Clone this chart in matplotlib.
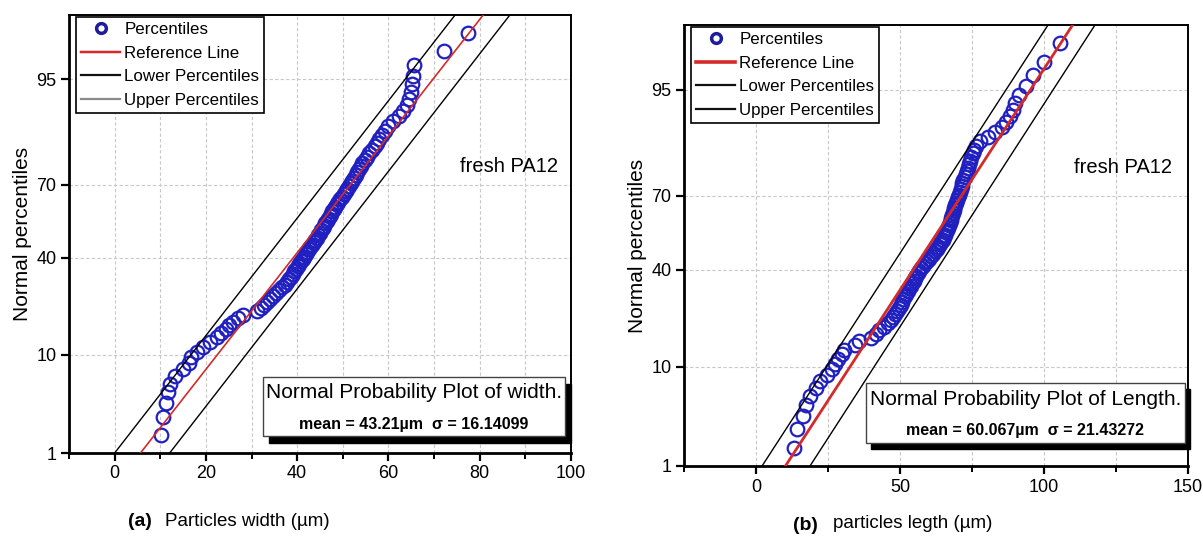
from statistics import NormalDist

import numpy as np
from matplotlib import pyplot as plt
from matplotlib.lines import Line2D
from matplotlib.patches import Rectangle
from matplotlib.ticker import MultipleLocator

plt.rcParams["font.family"] = ["Liberation Sans", "DejaVu Sans"]

# sorted particle widths, panel (a)
width = [7.5, 10.2, 10.6, 11.3, 11.7, 12.2, 13.2, 15.0, 16.2, 16.8,
         18.0, 19.4, 21.0, 22.5, 23.2, 24.3, 25.0, 25.9, 27.0, 28.1,
         31.2, 32.0, 32.7, 33.3, 34.0, 34.7, 35.4, 36.0, 36.7, 37.3,
         37.8, 38.2, 38.6, 39.0, 39.3, 39.7, 40.1, 40.5, 40.9, 41.2,
         41.5, 41.9, 42.2, 42.5, 42.8, 43.2, 43.6, 44.0, 44.3, 44.6,
         45.0, 45.3, 45.6, 45.9, 46.2, 46.5, 46.8, 47.1, 47.4, 47.7,
         48.0, 48.3, 48.7, 49.0, 49.4, 49.8, 50.2, 50.6, 51.0, 51.3,
         51.7, 52.1, 52.5, 52.8, 53.1, 53.5, 53.9, 54.3, 54.8, 55.3,
         55.8, 56.4, 57.0, 57.5, 58.0, 58.6, 59.2, 60.0, 61.0, 62.4,
         63.2, 64.0, 64.4, 64.9, 65.2, 65.3, 65.5, 72.2, 77.5, 85.0]

# sorted particle lengths, panel (b)
length = [5.0, 13.1, 14.1, 16.3, 17.3, 18.8, 21.0, 22.2, 24.5, 26.5,
          27.6, 28.3, 29.8, 30.5, 34.5, 35.8, 39.8, 41.5, 42.8, 44.3,
          45.8, 46.8, 47.6, 48.3, 49.0, 49.6, 50.2, 50.7, 51.2, 51.7,
          52.2, 52.7, 53.2, 53.7, 54.2, 54.7, 55.2, 55.7, 56.2, 56.7,
          57.3, 57.9, 58.6, 59.3, 60.0, 60.7, 61.4, 62.1, 62.7, 63.3,
          63.8, 64.3, 64.8, 65.2, 65.6, 66.0, 66.3, 66.7, 67.0, 67.3,
          67.6, 67.8, 68.0, 68.3, 68.6, 68.9, 69.2, 69.5, 69.8, 70.2,
          70.5, 70.8, 71.1, 71.4, 71.7, 72.0, 72.4, 72.8, 73.2, 73.6,
          74.0, 74.4, 74.8, 75.2, 75.7, 76.3, 77.8, 80.5, 83.0, 85.3,
          86.8, 88.2, 89.3, 90.0, 91.2, 93.8, 96.3, 100.0, 105.6, 118.0]

mean_a, sigma_a = 43.21, 16.14099
mean_b, sigma_b = 60.067, 21.43272

# confidence band end points (x at 1 % and 99 %)
band_p = [1, 99]
lower_a = [12.06, 86.6]
upper_a = [0.0, 74.6]
lower_b = [18.75, 117.7]
upper_b = [2.1, 101.4]

yticks = [1, 10, 40, 70, 95]

BLUE = "#2020c0"
RED = "#d42a2a"
_nd = NormalDist()


def fwd(p):
    p = np.clip(np.asarray(p, dtype=float) / 100.0, 1e-9, 1 - 1e-9)
    return np.vectorize(_nd.inv_cdf, otypes=[float])(p)


def inv(z):
    return np.vectorize(_nd.cdf, otypes=[float])(np.asarray(z, dtype=float)) * 100.0


def positions(data):
    """ Blom plotting positions in percent. """
    n = len(data)
    i = np.arange(1, n + 1)
    return (i - 0.375) / (n + 0.25) * 100.0


def panel(ax, data, mean, sigma, lower, upper, xlim, xmajor, xminor,
          ref_lw, upper_leg_color):
    ax.set_yscale("function", functions=(fwd, inv))
    ax.plot(data, positions(data), "o", mfc="none", mec=BLUE, ms=9.8,
            mew=1.6, zorder=2)
    zref = fwd(band_p)
    ax.plot(mean + sigma * zref, band_p, color=RED, lw=ref_lw, zorder=4)
    ax.plot(lower, band_p, color="black", lw=1.0, zorder=3)
    ax.plot(upper, band_p, color="black", lw=1.0, zorder=3)

    ax.set_xlim(*xlim)
    ax.set_ylim(1, 99)
    ax.xaxis.set_major_locator(MultipleLocator(xmajor))
    ax.xaxis.set_minor_locator(MultipleLocator(xminor))
    ax.set_yticks(yticks)
    ax.set_yticklabels([str(t) for t in yticks])
    ax.yaxis.set_minor_locator(plt.NullLocator())

    ax.xaxis.grid(True, which="both", color="#c8c8c8", lw=0.8,
                  linestyle=(0, (3, 2)))
    ax.yaxis.grid(True, which="major", color="#c8c8c8", lw=0.8,
                  linestyle=(0, (3, 2)))
    ax.set_axisbelow(True)

    for s in ("left", "bottom"):
        ax.spines[s].set_linewidth(2.0)
    for s in ("top", "right"):
        ax.spines[s].set_linewidth(1.4)
    ax.tick_params(which="major", direction="out", length=6, width=1.6,
                   labelsize=13, colors="black", pad=3)
    ax.tick_params(which="minor", direction="out", length=4, width=1.4)
    ax.tick_params(axis="y", which="both", right=False)
    ax.tick_params(axis="x", which="both", top=False)
    ax.set_ylabel("Normal percentiles", fontsize=15, labelpad=3)

    handles = [
        Line2D([], [], marker="o", ls="none", mfc="none", mec="#1c1c9c",
               mew=2.5, ms=7),
        Line2D([], [], color=RED, lw=ref_lw + 0.6),
        Line2D([], [], color="#111111", lw=1.6),
        Line2D([], [], color=upper_leg_color, lw=1.6),
    ]
    labels = ["Percentiles", "Reference Line", "Lower Percentiles",
              "Upper Percentiles"]
    leg = ax.legend(handles, labels, loc="upper left",
                    bbox_to_anchor=(0.014, 0.995), borderaxespad=0,
                    fontsize=12.2, handlelength=2.3, handletextpad=0.25,
                    labelspacing=0.5, borderpad=0.3, fancybox=False,
                    framealpha=1, edgecolor="black")
    leg.get_frame().set_linewidth(1.2)


def stats_box(ax, box, shadow, title, line2, tx, ty1, ty2, tsize):
    x0, y0, x1, y1 = box
    dx, dy = shadow
    ax.add_patch(Rectangle((x0 + dx, y0 - dy), x1 - x0, y1 - y0,
                           transform=ax.transAxes, color="black",
                           zorder=5, clip_on=False))
    ax.add_patch(Rectangle((x0, y0), x1 - x0, y1 - y0,
                           transform=ax.transAxes, facecolor="white",
                           edgecolor="#444444", lw=1.0, zorder=6,
                           clip_on=False))
    ax.text(tx, ty1, title, transform=ax.transAxes, ha="center",
            va="center", fontsize=tsize, zorder=7)
    ax.text(tx, ty2, line2, transform=ax.transAxes, ha="center",
            va="center", fontsize=11.5, fontweight="bold", zorder=7)


fig = plt.figure(figsize=(12.03, 5.37), dpi=100)
W, H = 1203.0, 537.0
ax1 = fig.add_axes([69 / W, 1 - 453 / H, 502 / W, 438 / H])
ax2 = fig.add_axes([684 / W, 1 - 466 / H, 504 / W, 441 / H])

panel(ax1, width, mean_a, sigma_a, lower_a, upper_a, (-10, 100), 20, 10,
      1.2, "#8a8a8a")
panel(ax2, length, mean_b, sigma_b, lower_b, upper_b, (-25, 150), 50, 25,
      2.0, "#111111")

ax1.text(0.876, 0.653, "fresh PA12", transform=ax1.transAxes,
         ha="center", va="center", fontsize=14.5)
ax2.text(0.871, 0.678, "fresh PA12", transform=ax2.transAxes,
         ha="center", va="center", fontsize=14.5)

stats_box(ax1, (0.3865, 0.0388, 0.988, 0.1735), (0.012, 0.016),
          "Normal Probability Plot of width.",
          "mean = 43.21\u00b5m  \u03c3 = 16.14099", 0.687, 0.137, 0.066,
          15)
stats_box(ax2, (0.361, 0.052, 0.994, 0.188), (0.010, 0.014),
          "Normal Probability Plot of Length.",
          "mean = 60.067\u00b5m  \u03c3 = 21.43272", 0.677, 0.150, 0.080,
          15)

fig.text(128 / W, 1 - 522 / H, "(a)", fontsize=14, fontweight="bold",
         va="center", ha="left")
fig.text(165 / W, 1 - 521 / H, "Particles width (\u00b5m)", fontsize=13.5,
         va="center", ha="left")
fig.text(793 / W, 1 - 526 / H, "(b)", fontsize=14, fontweight="bold",
         va="center", ha="left")
fig.text(833 / W, 1 - 523 / H, "particles legth (\u00b5m)", fontsize=13.5,
         va="center", ha="left")

fig.savefig("out.png", dpi=100)
